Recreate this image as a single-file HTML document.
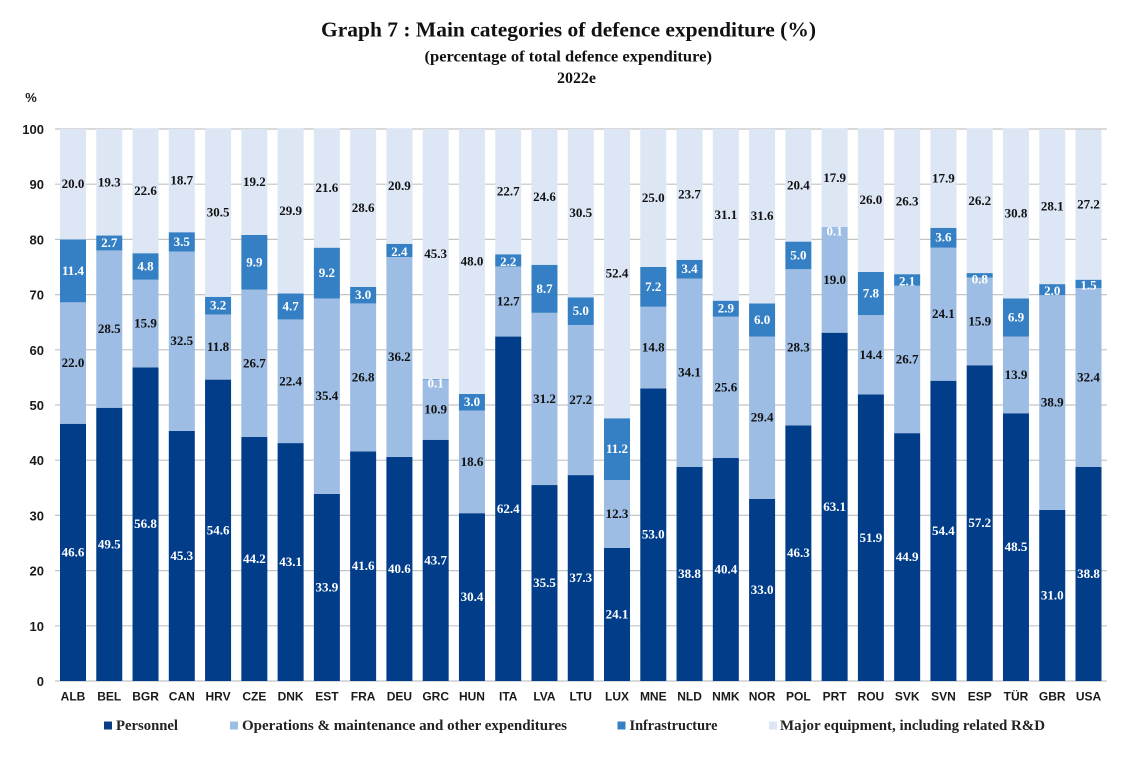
<!DOCTYPE html>
<html>
<head>
<meta charset="utf-8">
<style>
html,body{margin:0;padding:0;background:#fff;width:1122px;height:764px;overflow:hidden}
svg{display:block}
.serif{font-family:"Liberation Serif",serif;font-weight:bold}
.sans{font-family:"Liberation Sans",sans-serif;font-weight:bold}
</style>
</head>
<body>
<svg id="chart" width="1122" height="764" viewBox="0 0 1122 764" xmlns="http://www.w3.org/2000/svg">
  <text class="serif" x="321" y="36.5" font-size="21.5" fill="#111" textLength="495" lengthAdjust="spacingAndGlyphs">Graph 7 : Main categories of defence expenditure (%)</text>
  <text class="serif" x="424.5" y="61.5" font-size="16" fill="#111" textLength="287.5" lengthAdjust="spacingAndGlyphs">(percentage of total defence expenditure)</text>
  <text class="serif" x="557" y="83" font-size="16" fill="#111" textLength="39" lengthAdjust="spacingAndGlyphs">2022e</text>
  <text class="sans" x="31" y="102" text-anchor="middle" font-size="13" fill="#222">%</text>
  <g id="grid"></g>
  <g id="ylabels"></g>
  <g id="bars"></g>
  <g id="values"></g>
  <g id="xlabels"></g>
  <g>
    <g>
      <rect x="104" y="721.5" width="8" height="8" fill="#0b3d85"/>
      <text class="serif" x="116" y="730" font-size="15" fill="#222" textLength="62" lengthAdjust="spacingAndGlyphs">Personnel</text>
    </g>
    <g>
      <rect x="230" y="721.5" width="8" height="8" fill="#9dbde4"/>
      <text class="serif" x="242" y="730" font-size="15" fill="#222" textLength="325" lengthAdjust="spacingAndGlyphs">Operations &amp; maintenance and other expenditures</text>
    </g>
    <g>
      <rect x="617.5" y="721.5" width="8" height="8" fill="#3580c4"/>
      <text class="serif" x="629.5" y="730" font-size="15" fill="#222" textLength="88" lengthAdjust="spacingAndGlyphs">Infrastructure</text>
    </g>
    <g>
      <rect x="769" y="721.5" width="8" height="8" fill="#dce6f5"/>
      <text class="serif" x="780" y="730" font-size="15" fill="#222" textLength="265" lengthAdjust="spacingAndGlyphs">Major equipment, including related R&amp;D</text>
    </g>
  </g>
</svg>
<script>
const categories = ["ALB","BEL","BGR","CAN","HRV","CZE","DNK","EST","FRA","DEU","GRC","HUN","ITA","LVA","LTU","LUX","MNE","NLD","NMK","NOR","POL","PRT","ROU","SVK","SVN","ESP","TÜR","GBR","USA"];
const personnel = [46.6,49.5,56.8,45.3,54.6,44.2,43.1,33.9,41.6,40.6,43.7,30.4,62.4,35.5,37.3,24.1,53.0,38.8,40.4,33.0,46.3,63.1,51.9,44.9,54.4,57.2,48.5,31.0,38.8];
const operations = [22.0,28.5,15.9,32.5,11.8,26.7,22.4,35.4,26.8,36.2,10.9,18.6,12.7,31.2,27.2,12.3,14.8,34.1,25.6,29.4,28.3,19.0,14.4,26.7,24.1,15.9,13.9,38.9,32.4];
const infrastructure = [11.4,2.7,4.8,3.5,3.2,9.9,4.7,9.2,3.0,2.4,0.1,3.0,2.2,8.7,5.0,11.2,7.2,3.4,2.9,6.0,5.0,0.1,7.8,2.1,3.6,0.8,6.9,2.0,1.5];
const equipment = [20.0,19.3,22.6,18.7,30.5,19.2,29.9,21.6,28.6,20.9,45.3,48.0,22.7,24.6,30.5,52.4,25.0,23.7,31.1,31.6,20.4,17.9,26.0,26.3,17.9,26.2,30.8,28.1,27.2];
const yTicks = [0,10,20,30,40,50,60,70,80,90,100];

const NS = "http://www.w3.org/2000/svg";
const plotLeft = 55, plotRight = 1107, barWidth = 26;
const y0 = 681, y100 = 129;
function yScale(v){ return y0 - (v / 100) * (y0 - y100); }
function xCenter(i){ return 73 + i * ((1088.5 - 73) / (categories.length - 1)); }
function make(tag, attrs, parent, text){
  const el = document.createElementNS(NS, tag);
  for (const k in attrs) el.setAttribute(k, attrs[k]);
  if (text !== undefined) el.textContent = text;
  parent.appendChild(el);
  return el;
}
const series = [
  {key:"personnel", values:personnel, fill:"#023d8a", text:"#ffffff"},
  {key:"operations", values:operations, fill:"#9dbde4", text:"#111111"},
  {key:"infrastructure", values:infrastructure, fill:"#3580c4", text:"#ffffff"},
  {key:"equipment", values:equipment, fill:"#dce6f5", text:"#111111"}
];
const gridG = document.getElementById("grid");
const yG = document.getElementById("ylabels");
yTicks.forEach(function(t){
  const line = make("line", {x1:plotLeft, x2:plotRight, y1:yScale(t), y2:yScale(t), stroke:"#c4c4c4", "stroke-width":1.2}, gridG);
  
  
  const label = make("text", {x:44, y:yScale(t)+5, "text-anchor":"end", "font-size":13, fill:"#1a1a1a", "class":"sans"}, yG, String(t));
  
  
});
const barsG = document.getElementById("bars");
const valuesG = document.getElementById("values");
const xG = document.getElementById("xlabels");
categories.forEach(function(cat, i){
  let base = 0;
  const cx = xCenter(i);
  series.forEach(function(s){
    const v = s.values[i];
    const top = base + v;
    const seg = make("rect", {x:cx-barWidth/2, y:yScale(top), width:barWidth, height:yScale(base)-yScale(top), fill:s.fill}, barsG);
    
    
    const shift = v < 1 ? 4 : (v < 2.5 ? 1.5 : 0);
    const color = v < 1 ? "#ffffff" : s.text;
    const lab = make("text", {x:cx, y:yScale(base + v/2)+4+shift, "text-anchor":"middle", "font-size":13, fill:color, "class":"serif"}, valuesG, v.toFixed(1));
    
    
    base = top;
  });
  const xl = make("text", {x:cx, y:700.5, "text-anchor":"middle", "font-size":12, fill:"#1a1a1a", "class":"sans"}, xG, cat);
  
  
});
</script>
</body>
</html>
